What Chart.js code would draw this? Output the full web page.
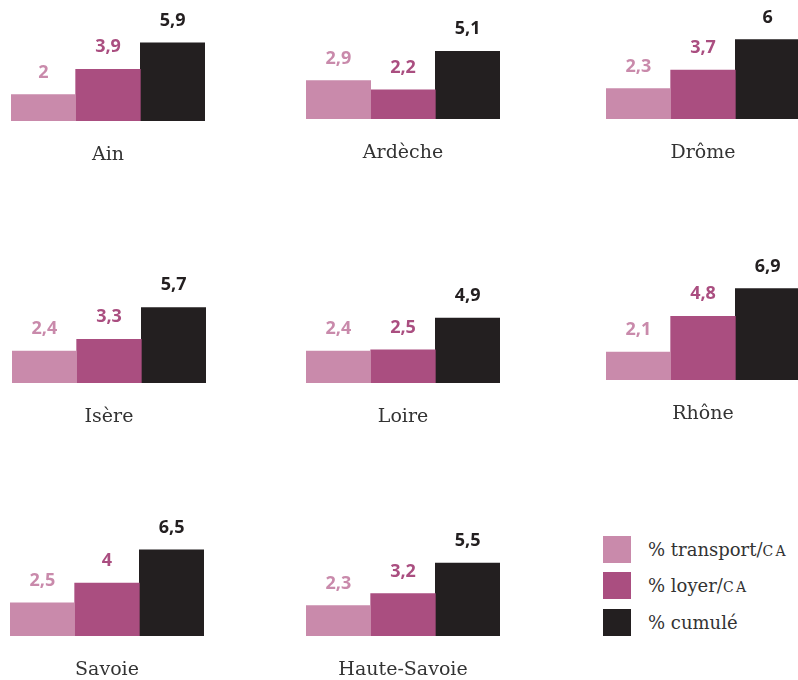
<!DOCTYPE html>
<html lang="fr">
<head>
<meta charset="utf-8">
<title>Transport et loyer / CA par département</title>
<script src="https://cdn.jsdelivr.net/npm/chart.js@4.4.0/dist/chart.umd.min.js"></script>
<style>
  html, body { margin: 0; padding: 0; background: #fff; }
  body { width: 798px; height: 680px; position: relative; overflow: hidden; }
  .panel { position: absolute; }
  #legend { position: absolute; left: 603px; top: 531px; font-family: "DejaVu Serif", serif; font-size: 18px; color: #333; }
  #legend .row { display: flex; align-items: center; height: 36.5px; white-space: nowrap; }
  #legend .box { width: 28px; height: 27px; margin-right: 17px; flex: none; }
  .sc { font-size: 0.78em; letter-spacing: 0.16em; }
</style>
</head>
<body>
<div id="legend"></div>
<script>
// data
const departements = ['Ain', 'Ardèche', 'Drôme', 'Isère', 'Loire', 'Rhône', 'Savoie', 'Haute-Savoie'];
const transport = [2, 2.9, 2.3, 2.4, 2.4, 2.1, 2.5, 2.3];
const loyer     = [3.9, 2.2, 3.7, 3.3, 2.5, 4.8, 4, 3.2];
const cumule    = [5.9, 5.1, 6, 5.7, 4.9, 6.9, 6.5, 5.5];
const seriesNames = ['% transport/CA', '% loyer/CA', '% cumulé'];

const colors = ['#c98aab', '#aa4e80', '#231f20'];

// where each small chart sits (left of first bar, baseline)
const slots = [
    {x: 11, base: 121}, {x: 306, base: 119}, {x: 606, base: 119},
    {x: 12, base: 383}, {x: 306, base: 383}, {x: 606, base: 380},
    {x: 10, base: 636}, {x: 306, base: 636}
];

const PAD_X = 10, PAD_TOP = 20, PLOT_H = 106, AXIS_H = 44, PLOT_W = 194;

/**
 * value above each bar, coloured like its series
 */
const valueLabels = {
    id: 'valueLabels',
    afterDatasetsDraw(chart){
        const ctx = chart.ctx;
        ctx.save();
        ctx.font = 'bold 18px "Open Sans", sans-serif';
        ctx.textAlign = 'center';
        ctx.textBaseline = 'alphabetic';
        chart.data.datasets.forEach((ds, i) => {
            chart.getDatasetMeta(i).data.forEach((bar, j) => {
                ctx.fillStyle = colors[i];
                ctx.fillText(String(ds.data[j]).replace('.', ','), bar.x, bar.y - 17);
            });
        });
        ctx.restore();
    }
};

function makePanel(k){
    const slot = slots[k];
    const canvas = document.createElement('canvas');
    canvas.className = 'panel';
    const w = PLOT_W + 2 * PAD_X, h = PAD_TOP + PLOT_H + AXIS_H;
    canvas.style.left = (slot.x - PAD_X) + 'px';
    canvas.style.top = (slot.base - PLOT_H - PAD_TOP) + 'px';
    canvas.style.width = w + 'px';
    canvas.style.height = h + 'px';
    canvas.width = w;
    canvas.height = h;
    document.body.appendChild(canvas);

    const series = [transport, loyer, cumule];

    return new Chart(canvas, {
        type: 'bar',
        data: {
            labels: [departements[k]],
            datasets: series.map((s, i) => ({
                label: seriesNames[i],
                data: [s[k]],
                backgroundColor: colors[i],
                barPercentage: 1,
                categoryPercentage: 1
            }))
        },
        options: {
            responsive: false,
            animation: false,
            layout: { padding: { left: PAD_X, right: PAD_X, top: PAD_TOP, bottom: 0 } },
            plugins: { legend: { display: false }, tooltip: { enabled: false } },
            scales: {
                x: {
                    grid: { display: false, drawTicks: false },
                    border: { display: false },
                    ticks: {
                        color: '#333',
                        padding: 23,
                        font: { family: '"DejaVu Serif", serif', size: 19 }
                    },
                    afterFit(scale){ scale.height = AXIS_H; }
                },
                y: { display: false, min: 0, max: 8 }
            }
        },
        plugins: [valueLabels]
    });
}

departements.forEach((d, k) => makePanel(k));

// legend
const legend = document.getElementById('legend');
seriesNames.forEach((name, i) => {
    const row = document.createElement('div');
    row.className = 'row';
    const box = document.createElement('div');
    box.className = 'box';
    box.style.background = colors[i];
    const txt = document.createElement('span');
    txt.innerHTML = name.replace('CA', '<span class="sc">CA</span>');
    row.appendChild(box);
    row.appendChild(txt);
    legend.appendChild(row);
});
</script>
</body>
</html>
